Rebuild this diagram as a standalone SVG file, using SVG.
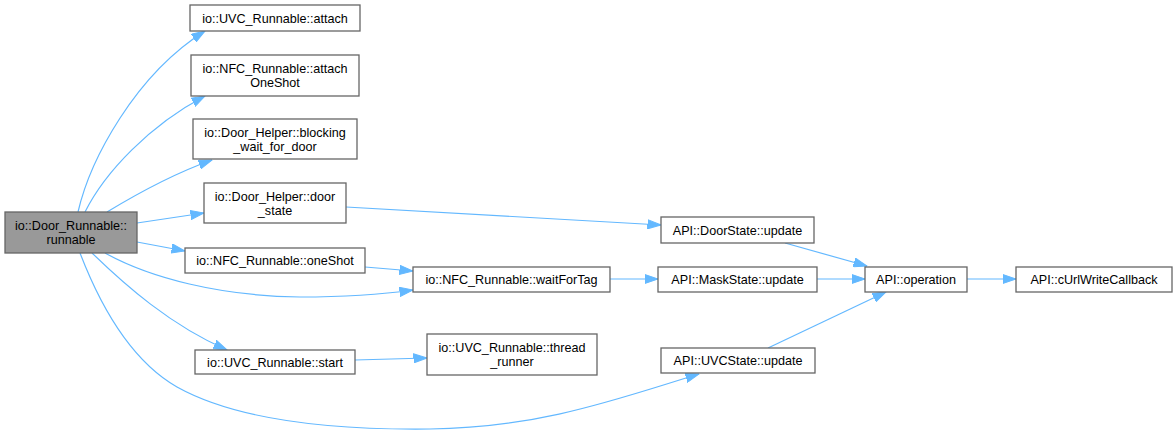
<svg xmlns="http://www.w3.org/2000/svg" width="1176" height="435" viewBox="0 0 1176 435">
<style>
.n rect{fill:#ffffff;stroke:#666666;stroke-width:1.3}
.m rect{fill:#999999;stroke:#666666;stroke-width:1.3}
text{font-family:"Liberation Sans",Arial,Helvetica,sans-serif;font-size:12.6px;fill:#000000;text-anchor:middle}
.e path{fill:none;stroke:#63b8ff;stroke-width:1.2;marker-end:url(#ah)}
</style>
<defs>
<marker id="ah" markerUnits="userSpaceOnUse" markerWidth="14" markerHeight="10" refX="13.5" refY="5" orient="auto" viewBox="0 0 14 10">
<path d="M0,0.4 L13.5,5 L0,9.6 z" fill="#63b8ff" stroke="#63b8ff" stroke-width="1"/>
</marker>
</defs>
<rect x="0" y="0" width="1176" height="435" fill="#ffffff"/>
<g id="edges" class="e">
<path d="M78,212 C90,160 135,75 205,31"/>
<path d="M85,212 C105,172 150,125 205,96"/>
<path d="M107,212 C135,195 170,175 212,160"/>
<path d="M137,223 L204,213"/>
<path d="M137,242 L185,251"/>
<path d="M105,253 C150,278 220,296 300,297 C350,297 385,294 413,290"/>
<path d="M92,253 C125,285 170,325 227,350"/>
<path d="M80,253 C100,305 130,360 177,387 C240,422 340,430 430,429 C540,428 620,398 699,374"/>
<path d="M346,207 L661,225"/>
<path d="M365,267 L413,271"/>
<path d="M355,360 L427,358"/>
<path d="M610,279 L658,279"/>
<path d="M785,243 L867,266"/>
<path d="M817,279 L865,279"/>
<path d="M768,348 L886,292"/>
<path d="M967,279 L1016,279"/>
</g>
<g id="node-main" class="m">
<rect x="5" y="212" width="132" height="41"/>
<text x="71" y="230">io::Door_Runnable::</text>
<text x="71" y="244">runnable</text>
</g>
<g id="node-uvc-attach" class="n">
<rect x="190" y="5" width="170" height="26"/>
<text x="275" y="22.5">io::UVC_Runnable::attach</text>
</g>
<g id="node-nfc-attachoneshot" class="n">
<rect x="191" y="55" width="168" height="41"/>
<text x="275" y="73">io::NFC_Runnable::attach</text>
<text x="275" y="87">OneShot</text>
</g>
<g id="node-blocking" class="n">
<rect x="193" y="119" width="164" height="40"/>
<text x="275" y="136.5">io::Door_Helper::blocking</text>
<text x="275" y="150.5">_wait_for_door</text>
</g>
<g id="node-door-state" class="n">
<rect x="204" y="183" width="142" height="40"/>
<text x="275" y="200.5">io::Door_Helper::door</text>
<text x="275" y="214.5">_state</text>
</g>
<g id="node-oneshot" class="n">
<rect x="185" y="248" width="180" height="25"/>
<text x="275" y="265">io::NFC_Runnable::oneShot</text>
</g>
<g id="node-start" class="n">
<rect x="195" y="350" width="160" height="24"/>
<text x="275" y="366.5">io::UVC_Runnable::start</text>
</g>
<g id="node-waitfortag" class="n">
<rect x="413" y="267" width="197" height="25"/>
<text x="511.5" y="284">io::NFC_Runnable::waitForTag</text>
</g>
<g id="node-thread-runner" class="n">
<rect x="427" y="334" width="170" height="41"/>
<text x="512" y="352">io::UVC_Runnable::thread</text>
<text x="512" y="366">_runner</text>
</g>
<g id="node-doorstate-update" class="n">
<rect x="661" y="217" width="153" height="26"/>
<text x="737.5" y="234.5">API::DoorState::update</text>
</g>
<g id="node-maskstate-update" class="n">
<rect x="658" y="267" width="159" height="25"/>
<text x="737.5" y="284">API::MaskState::update</text>
</g>
<g id="node-uvcstate-update" class="n">
<rect x="661" y="348" width="154" height="25"/>
<text x="738" y="365">API::UVCState::update</text>
</g>
<g id="node-operation" class="n">
<rect x="865" y="267" width="102" height="25"/>
<text x="916" y="284">API::operation</text>
</g>
<g id="node-curlwritecallback" class="n">
<rect x="1016" y="267" width="156" height="25"/>
<text x="1094" y="284">API::cUrlWriteCallback</text>
</g>
</svg>
